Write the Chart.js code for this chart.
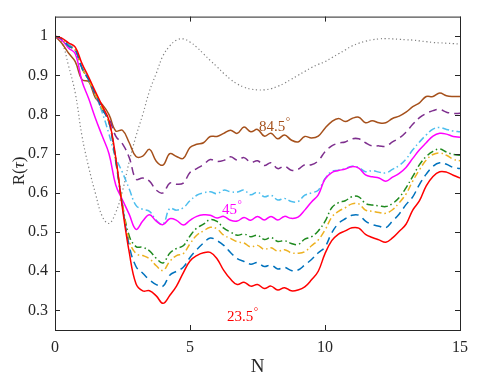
<!DOCTYPE html>
<html>
<head>
<meta charset="utf-8">
<script src="https://cdn.jsdelivr.net/npm/chart.js@4.4.0/dist/chart.umd.min.js"></script>
<style>
html,body{margin:0;padding:0;background:#fff;}
</style>
</head>
<body>
<canvas id="myChart" width="497" height="380"></canvas>
<script>
// N grid (x values)
const nValues = [0,0.25,0.5,0.75,1,1.25,1.5,1.75,2,2.25,2.5,2.75,3,3.25,3.5,3.75,4,4.25,4.5,4.75,
  5,5.25,5.5,5.75,6,6.25,6.5,6.75,7,7.25,7.5,7.75,8,8.25,8.5,8.75,9,9.25,9.5,9.75,
  10,10.25,10.5,10.75,11,11.25,11.5,11.75,12,12.25,12.5,12.75,13,13.25,13.5,13.75,14,14.25,14.5,14.75,15];

// R(tau) curves
const rDotted = [1,0.985,0.925,0.855,0.745,0.665,0.598,0.54,0.522,0.55,0.605,0.68,0.745,0.8,0.86,0.905,0.95,0.975,0.99,0.993,
  0.985,0.972,0.955,0.938,0.922,0.905,0.89,0.878,0.87,0.865,0.863,0.863,0.866,0.872,0.88,0.89,0.9,0.91,0.92,0.928,
  0.935,0.945,0.955,0.965,0.975,0.982,0.987,0.991,0.993,0.994,0.993,0.992,0.991,0.99,0.988,0.986,0.984,0.983,0.982,0.981,0.98];
const rBrown = [1,0.982,0.957,0.935,0.889,0.884,0.842,0.826,0.8,0.758,0.76,0.728,0.693,0.694,0.711,0.681,0.671,0.7,0.693,0.688,
  0.716,0.724,0.728,0.744,0.744,0.752,0.76,0.752,0.768,0.756,0.762,0.745,0.752,0.738,0.748,0.735,0.73,0.744,0.74,0.745,
  0.765,0.782,0.79,0.782,0.79,0.793,0.779,0.784,0.779,0.779,0.79,0.796,0.806,0.82,0.83,0.846,0.846,0.855,0.848,0.846,0.846];
const rPurple = [1,0.993,0.978,0.965,0.92,0.89,0.85,0.812,0.79,0.745,0.725,0.69,0.635,0.638,0.63,0.607,0.6,0.625,0.622,0.625,
  0.652,0.662,0.672,0.685,0.68,0.683,0.692,0.684,0.69,0.678,0.682,0.67,0.677,0.662,0.668,0.658,0.66,0.672,0.672,0.682,
  0.705,0.72,0.727,0.73,0.738,0.738,0.728,0.72,0.72,0.719,0.73,0.74,0.755,0.775,0.792,0.803,0.81,0.813,0.806,0.803,0.803];
const rCyan = [1,0.993,0.978,0.965,0.92,0.888,0.85,0.805,0.75,0.69,0.652,0.61,0.568,0.558,0.553,0.53,0.52,0.56,0.556,0.562,
  0.58,0.594,0.6,0.603,0.598,0.607,0.603,0.602,0.607,0.595,0.602,0.59,0.594,0.582,0.586,0.578,0.578,0.594,0.6,0.607,
  0.636,0.655,0.658,0.662,0.668,0.665,0.654,0.657,0.653,0.651,0.66,0.67,0.686,0.71,0.73,0.748,0.763,0.767,0.762,0.758,0.756];
const rMagenta = [1,0.99,0.97,0.955,0.885,0.84,0.79,0.745,0.7,0.62,0.582,0.545,0.507,0.528,0.544,0.528,0.519,0.534,0.53,0.518,
  0.53,0.54,0.544,0.543,0.536,0.54,0.53,0.528,0.537,0.53,0.54,0.531,0.54,0.531,0.54,0.535,0.538,0.556,0.577,0.595,
  0.635,0.652,0.657,0.661,0.667,0.663,0.646,0.641,0.638,0.63,0.64,0.65,0.665,0.688,0.71,0.728,0.745,0.752,0.75,0.744,0.742];
const rGreen = [1,0.993,0.975,0.965,0.918,0.888,0.852,0.815,0.78,0.685,0.57,0.49,0.463,0.461,0.452,0.433,0.421,0.446,0.458,0.465,
  0.49,0.51,0.52,0.532,0.527,0.51,0.5,0.492,0.495,0.488,0.492,0.481,0.486,0.476,0.478,0.471,0.468,0.482,0.488,0.503,
  0.527,0.562,0.575,0.58,0.59,0.59,0.573,0.569,0.567,0.565,0.573,0.588,0.613,0.642,0.672,0.693,0.706,0.712,0.704,0.698,0.696];
const rOrange = [1,0.993,0.975,0.965,0.918,0.888,0.852,0.815,0.78,0.683,0.568,0.478,0.445,0.44,0.432,0.414,0.402,0.425,0.44,0.445,
  0.47,0.492,0.503,0.512,0.508,0.492,0.484,0.475,0.472,0.462,0.466,0.456,0.46,0.451,0.455,0.447,0.446,0.45,0.465,0.48,
  0.505,0.538,0.553,0.562,0.572,0.572,0.556,0.553,0.55,0.548,0.557,0.575,0.597,0.63,0.659,0.684,0.698,0.702,0.696,0.686,0.682];
const rBlue = [1,0.993,0.975,0.965,0.918,0.888,0.852,0.815,0.78,0.68,0.565,0.465,0.412,0.395,0.378,0.366,0.362,0.39,0.4,0.41,
  0.435,0.455,0.472,0.485,0.478,0.466,0.448,0.432,0.425,0.418,0.422,0.412,0.416,0.406,0.41,0.402,0.403,0.416,0.43,0.447,
  0.462,0.498,0.522,0.534,0.543,0.543,0.528,0.519,0.515,0.511,0.528,0.546,0.57,0.59,0.622,0.648,0.668,0.677,0.673,0.665,0.662];
const rRed = [1,0.995,0.983,0.972,0.93,0.895,0.858,0.822,0.785,0.69,0.56,0.448,0.368,0.35,0.35,0.337,0.318,0.338,0.362,0.396,
  0.426,0.44,0.447,0.448,0.432,0.402,0.38,0.366,0.372,0.362,0.366,0.356,0.362,0.352,0.358,0.35,0.352,0.36,0.378,0.4,
  0.445,0.478,0.495,0.503,0.511,0.51,0.494,0.486,0.48,0.474,0.485,0.502,0.52,0.556,0.58,0.618,0.642,0.654,0.653,0.645,0.638];

const xTicks = [0, 5, 10, 15];
const yTicks = [0.3, 0.4, 0.5, 0.6, 0.7, 0.8, 0.9, 1];

// angle labels
const angleText = ['84.5', '45', '23.5'];
const angleN = [7.556, 6.185, 6.37];
const angleR = [0.7575, 0.545, 0.2725];
const angleColor = ['#a5501b', '#ff00ff', '#ff0000'];

const serif = "'Liberation Serif', 'Times New Roman', serif";
const axisColor = '#262626';

function pts(vals) {
    return nValues.map((n, i) => ({x: n, y: vals[i]}));
}

function serie(vals, color, dash) {
    return {data: pts(vals), borderColor: color, borderWidth: 1.5, borderDash: dash,
            pointRadius: 0, fill: false, tension: 0.4};
}

const frame = {
    id: 'frame',
    afterDraw(chart) {
        const ctx = chart.ctx;
        const a = chart.chartArea;
        const sx = chart.scales.x, sy = chart.scales.y;
        ctx.save();
        ctx.strokeStyle = axisColor;
        ctx.lineWidth = 1;
        ctx.strokeRect(a.left + 0.5, a.top + 0.5, a.right - a.left, a.bottom - a.top);
        ctx.beginPath();
        xTicks.forEach(t => {
            const px = Math.round(sx.getPixelForValue(t)) + 0.5;
            ctx.moveTo(px, a.bottom); ctx.lineTo(px, a.bottom - 5);
            ctx.moveTo(px, a.top); ctx.lineTo(px, a.top + 5);
        });
        yTicks.forEach(t => {
            const py = Math.round(sy.getPixelForValue(t)) + 0.5;
            ctx.moveTo(a.left, py); ctx.lineTo(a.left + 5, py);
            ctx.moveTo(a.right, py); ctx.lineTo(a.right - 5, py);
        });
        ctx.stroke();

        // axis titles
        ctx.fillStyle = axisColor;
        ctx.textBaseline = 'alphabetic';
        ctx.textAlign = 'center';
        ctx.font = '19px ' + serif;
        ctx.fillText('N', (a.left + a.right) / 2, 372);

        ctx.save();
        ctx.translate(24, 171);
        ctx.rotate(-Math.PI / 2);
        ctx.textAlign = 'left';
        const f1 = '17px ' + serif, f2 = 'italic 17px ' + serif;
        ctx.font = f1; const w1 = ctx.measureText('R(').width, w3 = ctx.measureText(')').width;
        ctx.font = f2; const w2 = ctx.measureText('τ').width;
        let xx = -(w1 + w2 + w3) / 2;
        ctx.font = f1; ctx.fillText('R(', xx, 0); xx += w1;
        ctx.font = f2; ctx.fillText('τ', xx, 0); xx += w2;
        ctx.font = f1; ctx.fillText(')', xx, 0);
        ctx.restore();

        // angle labels
        ctx.textAlign = 'left';
        angleText.forEach((t, i) => {
            const px = sx.getPixelForValue(angleN[i]);
            const py = sy.getPixelForValue(angleR[i]);
            ctx.fillStyle = angleColor[i];
            ctx.font = '15px ' + serif;
            ctx.fillText(t, px, py);
            const w = ctx.measureText(t).width;
            ctx.font = '11px ' + serif;
            ctx.fillText('°', px + w + 0.5, py - 6);
        });
        ctx.restore();
    }
};

new Chart('myChart', {
    type: 'line',
    data: {
        datasets: [
            serie(rRed, '#ff0000', []),
            serie(rBlue, '#0072bd', [8, 5]),
            serie(rOrange, '#edb120', [7, 3, 1.5, 3]),
            serie(rGreen, '#1f8a1f', [7, 3, 1.5, 3]),
            serie(rMagenta, '#ff00ff', []),
            serie(rCyan, '#4dbeee', [7, 3, 1.5, 3]),
            serie(rPurple, '#7e2f8e', [8, 5]),
            serie(rBrown, '#a5501b', []),
            {data: pts(rDotted), borderColor: '#808080', borderWidth: 1.2, borderDash: [1.2, 2.6],
             pointRadius: 0, fill: false, tension: 0.4}
        ]
    },
    options: {
        responsive: false,
        animation: false,
        devicePixelRatio: 1,
        layout: {padding: {top: 12, right: 37, left: 0, bottom: 0}},
        plugins: {legend: {display: false}, tooltip: {enabled: false}},
        scales: {
            x: {
                type: 'linear', min: 0, max: 15,
                afterBuildTicks: s => { s.ticks = xTicks.map(v => ({value: v})); },
                afterFit: s => { s.height = 50; },
                grid: {display: false, drawTicks: false},
                border: {display: false},
                ticks: {color: axisColor, font: {family: serif, size: 16}, padding: 8,
                        autoSkip: false, maxRotation: 0, callback: v => String(v)}
            },
            y: {
                type: 'linear', min: 0.25, max: 1.05,
                afterBuildTicks: s => { s.ticks = yTicks.map(v => ({value: v})); },
                afterFit: s => { s.width = 55; },
                grid: {display: false, drawTicks: false},
                border: {display: false},
                ticks: {color: axisColor, font: {family: serif, size: 16}, padding: 7,
                        autoSkip: false, callback: v => String(v)}
            }
        }
    },
    plugins: [frame]
});
</script>
</body>
</html>
